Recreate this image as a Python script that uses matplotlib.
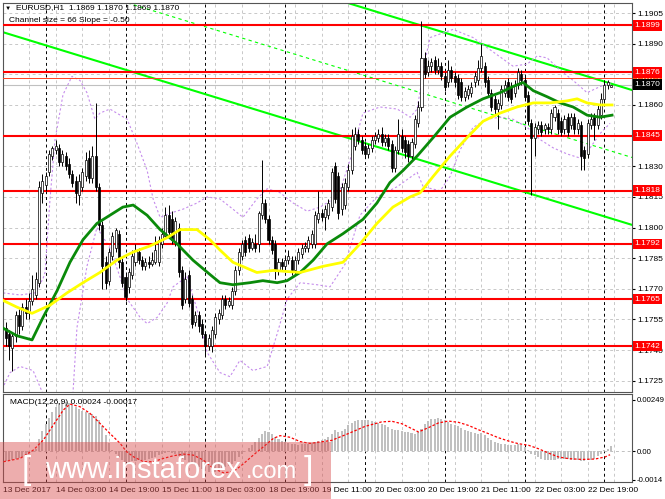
import matplotlib
matplotlib.use('Agg')
import matplotlib.pyplot as plt
import matplotlib.transforms as mtransforms
from matplotlib.patches import Rectangle

plt.rcParams['font.family'] = ['Liberation Sans', 'DejaVu Sans']

# EURUSD H1 candles, bar 0 = 13 Dec 12:00
opens = [1.1751, 1.1748, 1.1741, 1.1747, 1.1757, 1.1752, 1.1761, 1.1758, 1.1764, 1.1767,
         1.1773, 1.1817, 1.1821, 1.1827, 1.1835, 1.1838, 1.1839, 1.1832, 1.1835, 1.1831,
         1.1826, 1.1823, 1.1816, 1.1820, 1.1825, 1.1834, 1.1824, 1.1835, 1.1820, 1.1801,
         1.1783, 1.1774, 1.1786, 1.1790, 1.1797, 1.1783, 1.1776, 1.1771, 1.1777, 1.1783,
         1.1788, 1.1784, 1.1781, 1.1783, 1.1782, 1.1783, 1.1783, 1.1792, 1.1796, 1.1806,
         1.1804, 1.1793, 1.1800, 1.1779, 1.1765, 1.1777, 1.1765, 1.1754, 1.1757, 1.1753,
         1.1748, 1.1742, 1.1742, 1.1748, 1.1755, 1.1757, 1.1765, 1.1762, 1.1762, 1.1769,
         1.1779, 1.1786, 1.1794, 1.1795, 1.1790, 1.1792, 1.1792, 1.1806, 1.1812, 1.1804,
         1.1794, 1.1792, 1.1779, 1.1783, 1.1781, 1.1784, 1.1784, 1.1779, 1.1784, 1.1787,
         1.1790, 1.1790, 1.1792, 1.1792, 1.1804, 1.1807, 1.1805, 1.1806, 1.1810, 1.1830,
         1.1825, 1.1809, 1.1811, 1.1820, 1.1828, 1.1840, 1.1846, 1.1843, 1.1840, 1.1836,
         1.1839, 1.1843, 1.1844, 1.1846, 1.1842, 1.1844, 1.1841, 1.1829, 1.1838, 1.1845,
         1.1843, 1.1841, 1.1835, 1.1841, 1.1851, 1.1859, 1.1883, 1.1876, 1.1879, 1.1882,
         1.1877, 1.1879, 1.1874, 1.1871, 1.1877, 1.1874, 1.1873, 1.1871, 1.1864, 1.1865,
         1.1866, 1.1871, 1.1872, 1.1878, 1.1879, 1.1872, 1.1866, 1.1863, 1.1858, 1.1860,
         1.1866, 1.1871, 1.1869, 1.1866, 1.1870, 1.1875, 1.1872, 1.1865, 1.1851, 1.1844,
         1.1848, 1.1850, 1.1848, 1.1849, 1.1848, 1.1854, 1.1856, 1.1852, 1.1848, 1.1854,
         1.1850, 1.1854, 1.1848, 1.1850, 1.1838, 1.1836, 1.1850, 1.1854, 1.1850, 1.1855,
         1.1863, 1.1870, 1.1869]
highs = [1.1754, 1.1750, 1.1749, 1.1759, 1.1760, 1.1763, 1.1765, 1.1768, 1.1777, 1.1778,
         1.1823, 1.1826, 1.1827, 1.1838, 1.1840, 1.1843, 1.1841, 1.1838, 1.1837, 1.1834,
         1.1828, 1.1825, 1.1826, 1.1829, 1.1837, 1.1838, 1.1840, 1.1861, 1.1822, 1.1803,
         1.1786, 1.1790, 1.1798, 1.1800, 1.1799, 1.1785, 1.1778, 1.1780, 1.1789, 1.1792,
         1.1790, 1.1786, 1.1785, 1.1786, 1.1788, 1.1796, 1.1796, 1.1800, 1.1810, 1.1811,
         1.1808, 1.1805, 1.1802, 1.1781, 1.1778, 1.1779, 1.1767, 1.1759, 1.1759, 1.1755,
         1.1749, 1.1748, 1.1752, 1.1758, 1.1760, 1.1767, 1.1767, 1.1766, 1.1771, 1.1781,
         1.1790, 1.1794, 1.1796, 1.1797, 1.1795, 1.1797, 1.1808, 1.1833, 1.1814, 1.1806,
         1.1796, 1.1794, 1.1785, 1.1785, 1.1786, 1.1789, 1.1786, 1.1786, 1.1790, 1.1792,
         1.1793, 1.1796, 1.1799, 1.1808, 1.1818, 1.1809, 1.1811, 1.1814, 1.1829, 1.1832,
         1.1827, 1.1822, 1.1824, 1.1831, 1.1848, 1.1849, 1.1848, 1.1845, 1.1842, 1.1841,
         1.1845, 1.1847, 1.1848, 1.1849, 1.1846, 1.1846, 1.1843, 1.1840, 1.1853, 1.1848,
         1.1845, 1.1843, 1.1844, 1.1855, 1.1862, 1.1901, 1.1886, 1.1882, 1.1883, 1.1884,
         1.1883, 1.1881, 1.1876, 1.1882, 1.1879, 1.1876, 1.1875, 1.1873, 1.1869, 1.1870,
         1.1871, 1.1876, 1.1882, 1.1890, 1.1881, 1.1874, 1.1868, 1.1865, 1.1863, 1.1870,
         1.1872, 1.1873, 1.1871, 1.1872, 1.1878, 1.1877, 1.1874, 1.1867, 1.1853, 1.1851,
         1.1852, 1.1852, 1.1851, 1.1851, 1.1858, 1.1860, 1.1858, 1.1854, 1.1855, 1.1856,
         1.1856, 1.1856, 1.1853, 1.1852, 1.1840, 1.1853, 1.1856, 1.1856, 1.1860, 1.1866,
         1.1872, 1.1872, 1.1870]
lows = [1.1742, 1.1735, 1.1730, 1.1744, 1.1748, 1.1750, 1.1755, 1.1755, 1.1762, 1.1765,
        1.1771, 1.1812, 1.1818, 1.1825, 1.1833, 1.1836, 1.1830, 1.1830, 1.1828, 1.1824,
        1.1820, 1.1812, 1.1811, 1.1818, 1.1823, 1.1822, 1.1822, 1.1818, 1.1799, 1.1770,
        1.1770, 1.1772, 1.1784, 1.1788, 1.1780, 1.1771, 1.1764, 1.1768, 1.1775, 1.1781,
        1.1782, 1.1779, 1.1779, 1.1780, 1.1781, 1.1782, 1.1781, 1.1790, 1.1795, 1.1796,
        1.1792, 1.1791, 1.1776, 1.1760, 1.1763, 1.1761, 1.1751, 1.1752, 1.1749, 1.1746,
        1.1737, 1.1740, 1.1739, 1.1746, 1.1753, 1.1755, 1.1760, 1.1761, 1.1760, 1.1767,
        1.1777, 1.1784, 1.1786, 1.1788, 1.1789, 1.1788, 1.1788, 1.1804, 1.1802, 1.1792,
        1.1787, 1.1775, 1.1777, 1.1779, 1.1779, 1.1782, 1.1777, 1.1777, 1.1782, 1.1785,
        1.1788, 1.1788, 1.1790, 1.1790, 1.1802, 1.1803, 1.1799, 1.1804, 1.1808, 1.1812,
        1.1804, 1.1806, 1.1809, 1.1818, 1.1826, 1.1838, 1.1841, 1.1836, 1.1834, 1.1834,
        1.1837, 1.1841, 1.1842, 1.1840, 1.1840, 1.1838, 1.1827, 1.1827, 1.1836, 1.1837,
        1.1834, 1.1832, 1.1833, 1.1839, 1.1849, 1.1857, 1.1873, 1.1874, 1.1876, 1.1875,
        1.1875, 1.1872, 1.1867, 1.1869, 1.1871, 1.1869, 1.1863, 1.1862, 1.1862, 1.1863,
        1.1864, 1.1869, 1.1870, 1.1876, 1.1869, 1.1864, 1.1857, 1.1855, 1.1848, 1.1858,
        1.1864, 1.1862, 1.1861, 1.1864, 1.1868, 1.1870, 1.1862, 1.1850, 1.1816, 1.1835,
        1.1846, 1.1845, 1.1846, 1.1846, 1.1846, 1.1852, 1.1846, 1.1845, 1.1846, 1.1845,
        1.1848, 1.1846, 1.1846, 1.1828, 1.1828, 1.1834, 1.1848, 1.1843, 1.1848, 1.1853,
        1.1861, 1.1868, 1.1869]
closes = [1.1746, 1.1742, 1.1747, 1.1757, 1.1752, 1.1761, 1.1758, 1.1764, 1.1770, 1.1775,
          1.1820, 1.1823, 1.1825, 1.1836, 1.1839, 1.1840, 1.1832, 1.1836, 1.1830, 1.1826,
          1.1822, 1.1817, 1.1823, 1.1827, 1.1833, 1.1824, 1.1835, 1.1820, 1.1801, 1.1781,
          1.1773, 1.1788, 1.1796, 1.1799, 1.1783, 1.1773, 1.1766, 1.1778, 1.1786, 1.1789,
          1.1784, 1.1781, 1.1783, 1.1782, 1.1784, 1.1789, 1.1794, 1.1797, 1.1806, 1.1798,
          1.1794, 1.1803, 1.1778, 1.1762, 1.1775, 1.1763, 1.1753, 1.1757, 1.1752, 1.1748,
          1.1742, 1.1746, 1.1750, 1.1756, 1.1758, 1.1765, 1.1762, 1.1764, 1.1769, 1.1779,
          1.1788, 1.1792, 1.1788, 1.1790, 1.1793, 1.1790, 1.1807, 1.1812, 1.1804, 1.1794,
          1.1789, 1.1779, 1.1783, 1.1781, 1.1784, 1.1786, 1.1779, 1.1784, 1.1788, 1.1790,
          1.1791, 1.1794, 1.1797, 1.1806, 1.1807, 1.1805, 1.1809, 1.1812, 1.1827, 1.1814,
          1.1807, 1.1820, 1.1822, 1.1828, 1.1845, 1.1846, 1.1843, 1.1838, 1.1836, 1.1839,
          1.1843, 1.1845, 1.1846, 1.1842, 1.1844, 1.1840, 1.1829, 1.1838, 1.1846, 1.1839,
          1.1837, 1.1835, 1.1842, 1.1853, 1.1859, 1.1883, 1.1875, 1.1879, 1.1881, 1.1877,
          1.1879, 1.1874, 1.1869, 1.1877, 1.1873, 1.1871, 1.1865, 1.1864, 1.1867, 1.1868,
          1.1869, 1.1874, 1.1878, 1.1884, 1.1871, 1.1866, 1.1859, 1.1858, 1.1861, 1.1868,
          1.1870, 1.1864, 1.1863, 1.1870, 1.1876, 1.1872, 1.1864, 1.1852, 1.1844, 1.1849,
          1.1850, 1.1847, 1.1850, 1.1848, 1.1856, 1.1859, 1.1848, 1.1847, 1.1853, 1.1847,
          1.1854, 1.1848, 1.1851, 1.1835, 1.1834, 1.1851, 1.1853, 1.1850, 1.1858, 1.1863,
          1.1870, 1.1871, 1.1870]

# moving averages (bar index, price)
ma_green_x = [-1.1, 3.4, 7.9, 11.2, 15.4, 19.3, 23.2, 27.4, 31.3, 35.2, 38.3, 42.5, 46.4,
              51.5, 56.3, 61.4, 64.4, 68.3, 73.4, 77.3, 81.6, 84.6, 88.5, 92.4, 96.6, 101.4,
              107.4, 111.6, 115.5, 119.5, 123.7, 128.5, 133.6, 138.7, 143.5, 148.6, 152.5,
              155.5, 158.6, 162.8, 166.7, 170.6, 174.8, 178.7, 182.3]
ma_green_y = [1.1751, 1.1747, 1.1745, 1.1756, 1.1769, 1.1783, 1.1794, 1.1802, 1.1806, 1.1810,
              1.1811, 1.1806, 1.1799, 1.1792, 1.1784, 1.1777, 1.1773, 1.1772, 1.1773, 1.1774,
              1.1773, 1.1774, 1.1778, 1.1784, 1.1792, 1.1797, 1.1804, 1.1812, 1.1822, 1.1828,
              1.1835, 1.1844, 1.1854, 1.1859, 1.1863, 1.1866, 1.1869, 1.1871, 1.1867, 1.1864,
              1.1861, 1.1859, 1.1855, 1.1854, 1.1855]
ma_yellow_x = [-1.7, 3.4, 7.9, 13.3, 18.4, 23.2, 28.3, 33.4, 38.3, 43.4, 48.5, 52.4, 57.5,
               61.4, 64.4, 68.3, 75.5, 80.4, 88.5, 95.4, 101.4, 106.5, 111.6, 116.4, 121.6,
               124.6, 128.5, 133.6, 138.7, 143.5, 148.6, 153.7, 158.6, 163.7, 168.8, 171.8,
               174.8, 178.7, 182.3]
ma_yellow_y = [1.1765, 1.1761, 1.1758, 1.1762, 1.1768, 1.1773, 1.1778, 1.1784, 1.1788, 1.1791,
               1.1795, 1.1799, 1.1799, 1.1794, 1.1789, 1.1783, 1.1778, 1.1779, 1.1778, 1.1781,
               1.1783, 1.1792, 1.1802, 1.1810, 1.1815, 1.1817, 1.1825, 1.1835, 1.1844, 1.1852,
               1.1856, 1.1859, 1.1861, 1.1861, 1.1862, 1.1863, 1.1861, 1.1860, 1.1860]

# bollinger bands
bb_up_x = [-0.8, 4.3, 8.8, 11.2, 11.8, 13.3, 14.8, 17.2, 19.9, 22.3, 24.4, 26.8, 28.3, 31.3,
           36.5, 39.5, 42.5, 44.3, 46.4, 49.4, 53.3, 57.5, 60.5, 64.4, 68.3, 71.3, 75.5,
           78.6, 82.5, 86.4, 90.6, 94.5, 97.5, 100.5, 103.5, 107.4, 112.5, 117.7, 121.6,
           123.7, 126.1, 127.6, 134.5, 140.5, 146.5, 152.5, 156.8, 159.8, 162.8, 166.7,
           170.6, 174.8, 178.7, 182.3]
bb_up_y = [1.1768, 1.1767, 1.1768, 1.1775, 1.1778, 1.1814, 1.1843, 1.1865, 1.1874, 1.1872,
           1.1866, 1.1853, 1.1856, 1.1858, 1.1853, 1.1841, 1.1828, 1.1814, 1.1805, 1.1807,
           1.1809, 1.1812, 1.1815, 1.1814, 1.1809, 1.1805, 1.1814, 1.1819, 1.1817, 1.1812,
           1.1808, 1.1810, 1.1813, 1.1818, 1.1833, 1.1856, 1.1859, 1.1858, 1.1854, 1.1858,
           1.1882, 1.1893, 1.1897, 1.1893, 1.1886, 1.1879, 1.1880, 1.1884, 1.1883, 1.1877,
           1.1872, 1.1866, 1.1869, 1.1871]
bb_lo_x = [-1.7, 1.3, 4.3, 8.2, 10.3, 11.8, 14.8, 17.2, 20.2, 21.4, 24.4, 27.4, 31.3, 34.3,
           36.5, 40.4, 42.5, 45.5, 48.5, 50.3, 54.5, 57.5, 60.5, 64.4, 67.4, 70.4, 74.3,
           78.6, 81.6, 84.6, 88.5, 93.6, 97.5, 102.0, 106.5, 111.6, 117.7, 123.7, 125.5,
           130.6, 133.6, 136.6, 140.5, 144.7, 148.6, 152.5, 156.8, 160.7, 164.6, 168.8,
           172.7, 175.7, 178.7, 181.7]
bb_lo_y = [1.1719, 1.1729, 1.1732, 1.1730, 1.1722, 1.1716, 1.1700, 1.1705, 1.1719, 1.1751,
           1.1781, 1.1800, 1.1790, 1.1776, 1.1765, 1.1756, 1.1753, 1.1756, 1.1763, 1.1771,
           1.1776, 1.1760, 1.1739, 1.1729, 1.1727, 1.1735, 1.1730, 1.1732, 1.1748, 1.1765,
           1.1773, 1.1772, 1.1771, 1.1782, 1.1806, 1.1815, 1.1820, 1.1827, 1.1820, 1.1818,
           1.1825, 1.1838, 1.1849, 1.1853, 1.1854, 1.1853, 1.1849, 1.1843, 1.1839, 1.1836,
           1.1834, 1.1839, 1.1846, 1.1851]

# regression channel (size 66 pips, slope -0.50)
chan_x = [-0.84, 188.3]
chan_lo = [1.18956, 1.18013]
chan_size = 0.0066

levels = [1.1899, 1.1876, 1.1845, 1.1818, 1.1792, 1.1765, 1.1742]
ask_price = 1.1873
bid_price = 1.1870

price_ticks = [1.1725, 1.1740, 1.1755, 1.1770, 1.1785, 1.1800, 1.1815, 1.1830,
               1.1845, 1.1860, 1.1875, 1.1890, 1.1905]
hidden_ticks = [1.1845, 1.1875]  # covered by the level tags

macd_hist = [-0.00049, -0.00047, -0.00044, -0.00041, -0.00036, -0.00031, -0.00024, -0.00015,
             -0.00005, 0.00008, 0.00060, 0.00100, 0.00130, 0.00160, 0.00190, 0.00215,
             0.00235, 0.00244, 0.00241, 0.00236, 0.00225, 0.00213, 0.00205, 0.00197,
             0.00190, 0.00184, 0.00180, 0.00170, 0.00150, 0.00120, 0.00080, 0.00040,
             0.00005, -0.00015, -0.00030, -0.00045, -0.00055, -0.00055, -0.00050, -0.00047,
             -0.00045, -0.00045, -0.00044, -0.00040, -0.00035, -0.00028, -0.00020, -0.00015,
             -0.00008, -0.00005, -0.00008, -0.00015, -0.00025, -0.00040, -0.00045, -0.00052,
             -0.00062, -0.00070, -0.00078, -0.00086, -0.00095, -0.00100, -0.00102, -0.00100,
             -0.00095, -0.00088, -0.00080, -0.00072, -0.00062, -0.00048, -0.00030, -0.00015,
             0.00000, 0.00015, 0.00030, 0.00045, 0.00065, 0.00085, 0.00098, 0.00095,
             0.00085, 0.00070, 0.00060, 0.00050, 0.00045, 0.00040, 0.00035, 0.00032,
             0.00030, 0.00032, 0.00033, 0.00035, 0.00040, 0.00046, 0.00050, 0.00052,
             0.00060, 0.00068, 0.00085, 0.00101, 0.00093, 0.00098, 0.00109, 0.00125,
             0.00137, 0.00145, 0.00150, 0.00153, 0.00153, 0.00150, 0.00146, 0.00142,
             0.00137, 0.00133, 0.00125, 0.00117, 0.00109, 0.00104, 0.00101, 0.00098,
             0.00093, 0.00093, 0.00088, 0.00085, 0.00093, 0.00109, 0.00133, 0.00146,
             0.00155, 0.00158, 0.00161, 0.00158, 0.00150, 0.00142, 0.00133, 0.00125,
             0.00120, 0.00114, 0.00104, 0.00098, 0.00093, 0.00088, 0.00085, 0.00088,
             0.00076, 0.00065, 0.00052, 0.00044, 0.00039, 0.00036, 0.00033, 0.00028,
             0.00028, 0.00031, 0.00033, 0.00028, 0.00020, 0.00007, -0.00013, -0.00021,
             -0.00029, -0.00037, -0.00046, -0.00046, -0.00042, -0.00042, -0.00041, -0.00041,
             -0.00039, -0.00041, -0.00042, -0.00042, -0.00046, -0.00049, -0.00049, -0.00046,
             -0.00042, -0.00037, -0.00026, -0.00013, 0.00003, 0.00011, 0.00024]
signal_x = [-0.7, 4.3, 8.3, 11.3, 14.3, 17.3, 19.3, 22.3, 25.3, 28.3, 31.3, 34.4, 36.3, 38.4,
            41.4, 44.4, 47.4, 50.4, 53.4, 56.4, 59.4, 62.4, 65.4, 68.4, 71.4, 74.4, 77.5,
            80.5, 82.5, 85.5, 88.5, 91.5, 98.0, 103.0, 108.0, 113.0, 116.1, 119.1, 122.1,
            124.1, 127.1, 130.1, 133.1, 136.1, 139.1, 142.1, 145.1, 148.1, 151.1, 154.1,
            157.2, 160.2, 163.2, 166.2, 169.2, 173.2, 177.2, 180.2, 181.7]
signal_y = [-0.00052, -0.00036, 0.00005, 0.00054, 0.00127, 0.00200, 0.00229, 0.00216, 0.00184,
            0.00135, 0.00086, 0.00037, -0.00003, -0.00028, -0.00052, -0.00052, -0.00036,
            -0.00023, -0.00015, -0.00020, -0.00044, -0.00085, -0.00106, -0.00101, -0.00063,
            -0.00020, 0.00021, 0.00062, 0.00075, 0.00067, 0.00046, 0.00037, 0.00052, 0.00085,
            0.00120, 0.00142, 0.00145, 0.00133, 0.00109, 0.00093, 0.00114, 0.00137, 0.00146,
            0.00140, 0.00125, 0.00104, 0.00085, 0.00065, 0.00049, 0.00036, 0.00028, 0.00011,
            -0.00010, -0.00029, -0.00037, -0.00041, -0.00039, -0.00029, -0.00018]

date_idx = [15, 31, 47, 63, 79, 95, 111, 127, 143, 159, 175]
date_lbl = ['14 Dec 03:00', '14 Dec 19:00', '15 Dec 11:00', '18 Dec 03:00', '18 Dec 19:00',
            '19 Dec 11:00', '20 Dec 03:00', '20 Dec 19:00', '21 Dec 11:00', '22 Dec 03:00',
            '22 Dec 19:00']
day_sep_idx = [12, 36, 60, 84, 108, 132, 156, 180]

W, H = 665, 499
fig = plt.figure(figsize=(W / 100, H / 100), dpi=100)
fig.patch.set_facecolor('white')
ax = fig.add_axes([3 / W, 1 - 392 / H, 629 / W, 389 / H])
axm = fig.add_axes([3 / W, 1 - 482 / H, 629 / W, 88 / H], sharex=ax)

xmin, xmax = -0.84, 188.3
n = len(closes)
xs = list(range(n))

for a in (ax, axm):
    a.set_facecolor('white')
    for s in a.spines.values():
        s.set_color('#555555')
        s.set_linewidth(0.8)
    for g in range(7, 189, 8):
        a.axvline(g, color='#c8c8c8', lw=0.7, ls=(0, (3, 3)), zorder=0)
    for d in day_sep_idx:
        a.axvline(d, color='black', lw=0.7, ls=(0, (3, 3)), zorder=0.5)
    a.yaxis.tick_right()
    a.tick_params(axis='y', labelsize=6, length=2, pad=2, colors='black')
    a.tick_params(axis='x', bottom=False, labelbottom=False)

for t in price_ticks:
    ax.axhline(t, color='#c8c8c8', lw=0.7, ls=(0, (3, 3)), zorder=0)

# channel
lo = chan_lo
ax.plot(chan_x, lo, color='#00ff00', lw=1.5, zorder=2)
ax.plot(chan_x, [v + chan_size for v in lo], color='#00ff00', lw=1.5, zorder=2)
ax.plot(chan_x, [v + chan_size / 2 for v in lo], color='#00ff00', lw=0.8,
        ls=(0, (3, 3)), zorder=2)

# bollinger
ax.plot(bb_up_x, bb_up_y, color='#c58cec', lw=0.8, ls=(0, (2, 2)), zorder=2)
ax.plot(bb_lo_x, bb_lo_y, color='#c58cec', lw=0.8, ls=(0, (2, 2)), zorder=2)

# levels
for lv in levels:
    ax.axhline(lv, color='#ff0000', lw=1.5, zorder=3)
ax.axhline(ask_price, color='#ff4020', lw=0.7, zorder=3)
ax.axhline(bid_price, color='#c0c0c0', lw=0.8, zorder=1)

# candles
for i in xs:
    o, h, l, c = opens[i], highs[i], lows[i], closes[i]
    ax.vlines(i, l, h, color='black', lw=0.7, zorder=4)
    bot = min(o, c)
    ht = max(abs(c - o), 0.00003)
    ax.bar(i, ht, bottom=bot, width=0.62, color='white' if c >= o else 'black',
           edgecolor='black', linewidth=0.5, zorder=5)

ax.plot(ma_green_x, ma_green_y, color='#0a8a0a', lw=2.0, zorder=6)
ax.plot(ma_yellow_x, ma_yellow_y, color='#ffff00', lw=2.0, zorder=6)

ax.set_xlim(xmin, xmax)
ax.set_ylim(1.17195, 1.19099)
ax.set_yticks(price_ticks)
ax.set_yticklabels(['' if t in hidden_ticks else '%.4f' % t for t in price_ticks])

trans = mtransforms.blended_transform_factory(ax.transAxes, ax.transData)


def price_tag(y, fc, z):
    ax.text(1.004, y, '%.4f' % y, transform=trans, ha='left', va='center', fontsize=6,
            color='white', zorder=z, clip_on=False,
            bbox=dict(boxstyle='square,pad=0.22', fc=fc, ec='none'))


price_tag(ask_price, '#ff5a1e', 10)
for lv in levels:
    price_tag(lv, '#ff0000', 11)
price_tag(bid_price, 'black', 12)

# header
fig.text(5 / W, 1 - 8 / H, '\u25bc', fontsize=4.5, va='center', ha='left')
fig.text(16 / W, 1 - 8 / H, 'EURUSD,H1  1.1869 1.1870 1.1869 1.1870', fontsize=6,
         va='center', ha='left')
fig.text(9 / W, 1 - 20 / H, 'Channel size = 66 Slope = -0.50', fontsize=6,
         va='center', ha='left')

# MACD
axm.bar(xs, macd_hist, width=0.62, color='#c0c0c0', zorder=2)
axm.plot(signal_x, signal_y, color='#ff0000', lw=0.9, ls=(0, (2, 1.5)), zorder=3)
axm.axhline(0, color='#c0c0c0', lw=0.7, ls=(0, (3, 3)), zorder=1)
axm.set_ylim(-0.00151, 0.00278)
axm.set_yticks([0.00249, 0.0, -0.0014])
axm.set_yticklabels(['0.00249', '0.00', '-0.0014'])
axm.tick_params(axis='y', labelsize=5.6, pad=1.5)
axm.text(7 / 629, 0.9, 'MACD(12,26,9) 0.00024 -0.00017', transform=axm.transAxes,
         fontsize=6, va='center', ha='left')

# time labels
tb = mtransforms.blended_transform_factory(axm.transData, fig.transFigure)
axm.text(xmin + 0.1, 1 - 490 / H, '13 Dec 2017', transform=tb, fontsize=6,
         va='center', ha='left', clip_on=False)
for d, s in zip(date_idx, date_lbl):
    axm.text(d, 1 - 490 / H, s, transform=tb, fontsize=6, va='center', ha='left',
             clip_on=False)

# watermark
fig.add_artist(Rectangle((0, 0), 331 / W, 57 / H, transform=fig.transFigure,
                         facecolor='#d84a4a', alpha=0.45, edgecolor='none', zorder=20))
fig.text(22 / W, 1 - 471 / H, '[', fontsize=24, color='white', va='center', ha='left',
         zorder=21)
fig.text(45 / W, 1 - 478 / H, 'www.instaforex', fontsize=21, color='white',
         va='baseline', ha='left', zorder=21)
fig.text(246 / W, 1 - 478 / H, '.com', fontsize=17, color='white', va='baseline',
         ha='left', zorder=21)
fig.text(304 / W, 1 - 471 / H, ']', fontsize=24, color='white', va='center', ha='left',
         zorder=21)

fig.savefig('out.png', dpi=100)
